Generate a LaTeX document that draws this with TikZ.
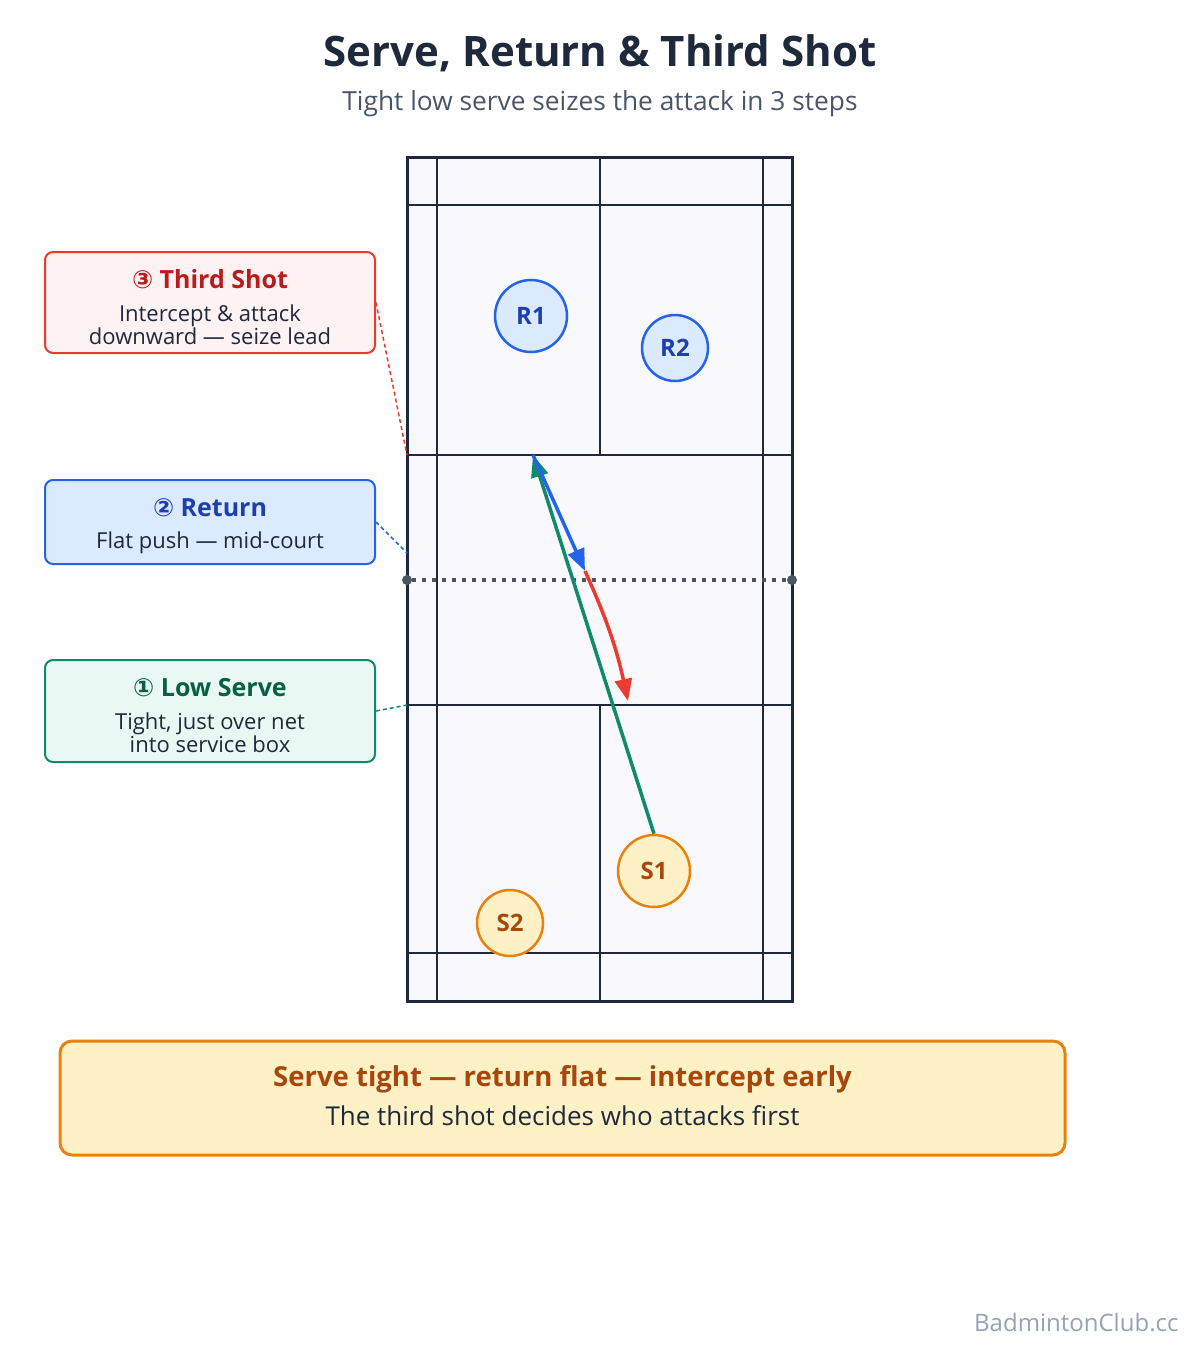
\documentclass[tikz,border=0pt]{standalone}
\usepackage{fontspec}
\setmainfont{Open Sans}
\newfontfamily\symfont{DejaVu Sans}
\usepackage{tikz}
\usetikzlibrary{arrows.meta, positioning, calc}

\definecolor{ink}{HTML}{1E293B}
\definecolor{subgray}{HTML}{4A5568}
\definecolor{netgray}{HTML}{4B5563}
\definecolor{courtfill}{HTML}{F8F8FD}
\definecolor{thirdline}{HTML}{EB3B2F}
\definecolor{thirdfill}{HTML}{FEF2F2}
\definecolor{thirdtext}{HTML}{B91C1C}
\definecolor{retline}{HTML}{2563EB}
\definecolor{retfill}{HTML}{DBEAFE}
\definecolor{rettext}{HTML}{1E40AF}
\definecolor{serveline}{HTML}{0F8A6A}
\definecolor{servefill}{HTML}{EAF8F3}
\definecolor{servetext}{HTML}{065F46}
\definecolor{ambline}{HTML}{E8820C}
\definecolor{ambfill}{HTML}{FEF1C6}
\definecolor{ambtext}{HTML}{A8470C}
\definecolor{footgray}{HTML}{94A3B8}

\begin{document}
\begin{tikzpicture}[x=1pt, y=-1pt,
    court/.style={draw=ink, line width=2pt},
    callout/.style={rectangle, draw, rounded corners=8pt, line width=2pt, minimum width=330pt, inner sep=0pt},
    calltitle/.style={anchor=base, inner sep=0pt, font=\bfseries\fontsize{25}{30}\selectfont},
    callbody/.style={anchor=base, inner sep=0pt, text=ink, font=\fontsize{22}{26}\selectfont},
    player/.style={circle, draw, line width=2.5pt, inner sep=0pt, font=\bfseries\fontsize{24}{24}\selectfont},
    recv/.style={player, fill=retfill, draw=retline, text=rettext},
    srv/.style={player, fill=ambfill, draw=ambline, text=ambtext},
    shot/.style={-{Triangle[length=22pt, width=17pt]}, line width=3.5pt},
    leader/.style={line width=1.5pt, dash pattern=on 4pt off 3pt},
    netdot/.style={circle, fill=netgray, inner sep=0pt, minimum size=10pt}
]
    \useasboundingbox (0,0) rectangle (1200,1350);
    \fill[white] (0,0) rectangle (1200,1350);

    % Heading
    \node[font=\bfseries\fontsize{42}{50}\selectfont, text=ink, anchor=base] (title) at (600,66) {Serve, Return \& Third Shot};
    \node[font=\fontsize{26.3}{31}\selectfont, text=subgray, anchor=base] (subtitle) at (600,110) {Tight low serve seizes the attack in 3 steps};

    % Court (plan view)
    \fill[courtfill] (407,157) rectangle (792,1001);
    \draw[court] (437,157) -- (437,1001);
    \draw[court] (763,157) -- (763,1001);
    \draw[court] (407,205) -- (792,205);
    \draw[court] (407,455) -- (792,455);
    \draw[court] (407,705) -- (792,705);
    \draw[court] (407,953) -- (792,953);
    \draw[court] (600,157) -- (600,455);
    \draw[court] (600,705) -- (600,1001);
    \draw[draw=ink, line width=3pt] (407,157) rectangle (792,1001);

    % Net
    \node[netdot] (netL) at (407,580) {};
    \node[netdot] (netR) at (792,580) {};
    \draw[netgray, line width=3.5pt, dash pattern=on 3.5pt off 6.5pt] (netL) -- (netR);

    % Players
    \node[recv, minimum size=72pt] (r1) at (531,316) {R1};
    \node[recv, minimum size=66pt] (r2) at (675,348) {R2};
    \node[srv, minimum size=72pt] (s1) at (654,871) {S1};
    \node[srv, minimum size=66pt] (s2) at (510,923) {S2};

    % Shuttle path
    \coordinate (hit2) at (533,455);
    \coordinate (hit3) at (585,571);
    \coordinate (land3) at (628,701);
    \draw[shot, serveline] (s1.north) -- (hit2);
    \draw[shot, retline] (hit2) -- (hit3);
    \draw[shot, thirdline] (hit3) to[bend left=6] (land3);

    % Callouts
    \node[callout, draw=thirdline, fill=thirdfill, minimum height=101pt] (third) at (210,302.5) {};
    \node[calltitle, text=thirdtext] (thirdT) at (210,288) {{\symfont ③} Third Shot};
    \node[callbody] (thirdB1) at (210,321) {Intercept \& attack};
    \node[callbody] (thirdB2) at (210,344.5) {downward — seize lead};

    \node[callout, draw=retline, fill=retfill, minimum height=84pt] (ret) at (210,522) {};
    \node[calltitle, text=rettext] (retT) at (210,516) {{\symfont ②} Return};
    \node[callbody] (retB) at (210,548.5) {Flat push — mid-court};

    \node[callout, draw=serveline, fill=servefill, minimum height=102pt] (serve) at (210,711) {};
    \node[calltitle, text=servetext] (serveT) at (210,696) {{\symfont ①} Low Serve};
    \node[callbody] (serveB1) at (210,729) {Tight, just over net};
    \node[callbody] (serveB2) at (210,752.5) {into service box};

    % Leaders to the court
    \coordinate (lead3) at (407,455);
    \coordinate (lead2) at (407,553);
    \coordinate (lead1) at (407,705);
    \draw[leader, thirdline] (third.east) -- (lead3);
    \draw[leader, retline] (ret.east) -- (lead2);
    \draw[leader, serveline] (serve.east) -- (lead1);

    % Takeaway
    \node[rectangle, draw=ambline, fill=ambfill, line width=3pt, rounded corners=12pt, minimum width=1005pt, minimum height=114pt] (takeaway) at (562.5,1098) {};
    \node[font=\bfseries\fontsize{27.5}{32}\selectfont, text=ambtext, anchor=base] (takeT) at (562.5,1086) {Serve tight — return flat — intercept early};
    \node[font=\fontsize{26}{30}\selectfont, text=ink, anchor=base] (takeB) at (562.5,1125) {The third shot decides who attacks first};

    \node[font=\fontsize{24}{28}\selectfont, text=footgray, anchor=base east] (footer) at (1182,1331) {BadmintonClub.cc};
\end{tikzpicture}
\end{document}
